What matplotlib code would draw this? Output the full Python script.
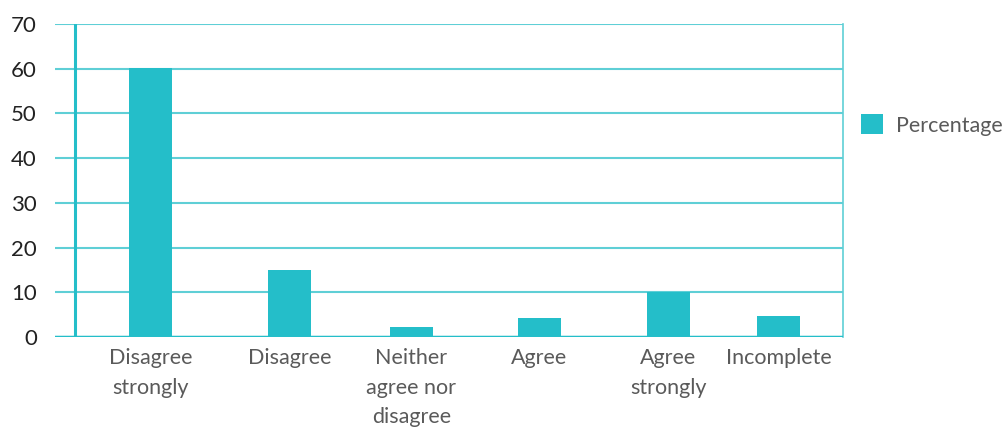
import numpy as np
import matplotlib.pyplot as plt

# survey responses, share of respondents (%)
categories = ["Disagree\nstrongly", "Disagree", "Neither\nagree nor\ndisagree",
              "Agree", "Agree\nstrongly", "Incomplete"]
percentage = [60.2, 15.0, 2.3, 4.3, 10.0, 4.8]

# where each bar sits along the axis (spacing is uneven on purpose)
xpos = [0.955, 2.345, 3.565, 4.845, 6.135, 7.235]

bar_col = "#24bec9"
grid_col = "#5fcfd6"

plt.rcParams['font.family'] = ['Lato', 'DejaVu Sans']

fig = plt.figure(figsize=(10.03, 4.28), dpi=100)
ax = fig.add_axes([55/1003, (428-337)/428, (843-55)/1003, (337-24)/428])

ax.bar(xpos, percentage, width=0.43, color=bar_col, label="Percentage", zorder=3)

ax.set_xlim(0, 7.88)
ax.set_ylim(0, 70)
ax.set_yticks(np.arange(0, 71, 10))
ax.yaxis.grid(True, color=grid_col, linewidth=1.5, zorder=1)
ax.set_axisbelow(True)

# vertical axis line, set in from the left edge of the grid
ax.axvline(0.2, color=bar_col, linewidth=2.2, zorder=2)
ax.axhline(0, color=bar_col, linewidth=2.5, zorder=4)

for side in ["top", "left", "bottom"]:
    ax.spines[side].set_visible(False)
ax.spines["right"].set_color(grid_col)
ax.spines["right"].set_linewidth(1.2)

ax.set_xticks(xpos)
ax.set_xticklabels(categories, fontsize=15.5, color="#5a5a5a", linespacing=1.6)
ax.tick_params(axis="x", length=0, pad=8)
ax.tick_params(axis="y", length=0, pad=13, labelsize=16, labelcolor="#222222")

leg = fig.legend(loc="center left", bbox_to_anchor=(842/1003, 1 - 125/428),
                 frameon=False, fontsize=15.5, handlelength=1.0, handleheight=1.0,
                 handletextpad=0.6)
for t in leg.get_texts():
    t.set_color("#5a5a5a")

fig.savefig("out.png", dpi=100)
